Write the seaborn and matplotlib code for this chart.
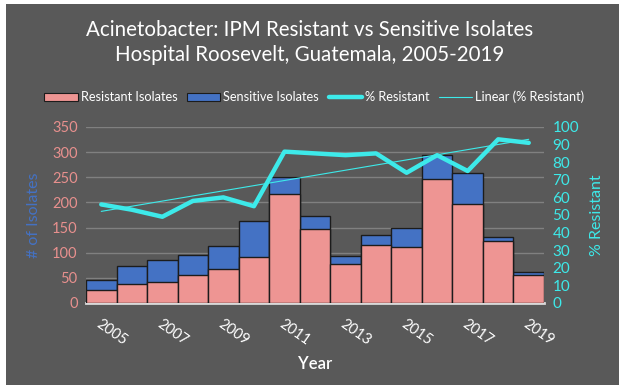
import numpy as np
import pandas as pd
import matplotlib
matplotlib.use("Agg")
import matplotlib.pyplot as plt
from matplotlib.patches import Patch, Rectangle
from matplotlib.lines import Line2D
import seaborn as sns

years = list(range(2005, 2020))
resistant = [25, 38, 41, 55, 67, 91, 217, 147, 78, 116, 111, 246, 196, 123, 55]
total = [45, 73, 85, 95, 113, 164, 251, 174, 94, 136, 150, 294, 258, 131, 61]
pct_resistant = [56, 53, 49, 58, 60, 55, 86, 85, 84, 85, 74, 84, 75, 93, 91]
tick_years = [2005, 2007, 2009, 2011, 2013, 2015, 2017, 2019]

BG = "#595959"
PINK = "#EE9593"
BLUE = "#4472C4"
CYAN = "#3DEAEA"
EDGE = "#1c1c1c"

sns.set_theme(style="dark")
plt.rcParams["font.family"] = ["Lato", "DejaVu Sans"]

df = pd.DataFrame({"Year": years, "Resistant": resistant, "Total": total,
                   "Pct": pct_resistant})
slope, intercept = np.polyfit(df["Year"], df["Pct"], 1)
df["Trend"] = slope * df["Year"] + intercept

fig = plt.figure(figsize=(6.19, 3.85), dpi=100, facecolor="white")
fig.patches.append(Rectangle((6 / 619, 0), 1, 1 - 4 / 385, transform=fig.transFigure,
                             facecolor=BG, edgecolor="none", zorder=-10))

ax = fig.add_axes([86 / 619, 1 - 303 / 385, (544 - 86) / 619, (303 - 127) / 385])
ax.set_facecolor(BG)

sns.barplot(data=df, x="Year", y="Total", native_scale=True, width=1.0,
            color=BLUE, saturation=1, edgecolor=EDGE, linewidth=1.0, ax=ax, zorder=2)
sns.barplot(data=df, x="Year", y="Resistant", native_scale=True, width=1.0,
            color=PINK, saturation=1, edgecolor=EDGE, linewidth=1.0, ax=ax, zorder=3)

ax.set_ylim(0, 350)
ax.set_xlim(2004.5, 2019.5)
ax.set_yticks(range(0, 351, 50))
ax.set_xticks(tick_years)
ax.set_xticklabels([str(y) for y in tick_years], rotation=-35, ha="left",
                   rotation_mode="anchor", color="white", fontsize=10.5)
ax.tick_params(axis="x", length=0, pad=10)
ax.tick_params(axis="y", length=0, colors="#E8908E", labelsize=10.5, pad=6)
ax.grid(axis="y", color="#808080", linewidth=1.0, zorder=0)
ax.grid(axis="x", visible=False)
ax.set_axisbelow(True)
for s in ["top", "right", "left"]:
    ax.spines[s].set_visible(False)
ax.spines["bottom"].set_color("#D9D9D9")
ax.spines["bottom"].set_linewidth(2)
ax.set_ylabel("# of Isolates", color=BLUE, fontsize=11.5, labelpad=8)
ax.set_xlabel("Year", color="white", fontsize=12, fontweight="semibold", labelpad=6)

ax2 = ax.twinx()
sns.lineplot(data=df, x="Year", y="Pct", color=CYAN, linewidth=3.2, ax=ax2,
             zorder=5)
sns.lineplot(data=df, x="Year", y="Trend", color=CYAN, linewidth=0.8, ax=ax2,
             zorder=4)
ax2.set_ylim(0, 100)
ax2.set_yticks(range(0, 101, 10))
ax2.tick_params(axis="y", length=0, colors=CYAN, labelsize=11, pad=6)
ax2.set_ylabel("% Resistant", color=CYAN, fontsize=11.5, labelpad=8)
ax2.grid(False)
for s in ax2.spines.values():
    s.set_visible(False)
ax2.set_xlim(2004.5, 2019.5)

fig.text(0.5, 1 - 30 / 385, "Acinetobacter: IPM Resistant vs Sensitive Isolates",
         ha="center", va="center", color="white", fontsize=14.8)
fig.text(0.5, 1 - 55 / 385, "Hospital Roosevelt, Guatemala, 2005-2019",
         ha="center", va="center", color="white", fontsize=14.8)

handles = [Patch(facecolor=PINK, edgecolor=EDGE, linewidth=0.8),
           Patch(facecolor=BLUE, edgecolor=EDGE, linewidth=0.8),
           Line2D([], [], color=CYAN, linewidth=3.2),
           Line2D([], [], color=CYAN, linewidth=0.8)]
labels = ["Resistant Isolates", "Sensitive Isolates", "% Resistant",
          "Linear (% Resistant)"]
leg = fig.legend(handles, labels, loc="center", bbox_to_anchor=(0.508, 1 - 97 / 385),
                 ncol=4, frameon=False, fontsize=9.2, handlelength=2.6,
                 handleheight=0.6, handletextpad=0.25, columnspacing=0.75)
for t in leg.get_texts():
    t.set_color("white")

fig.savefig("out.png", dpi=100, facecolor=fig.get_facecolor())
